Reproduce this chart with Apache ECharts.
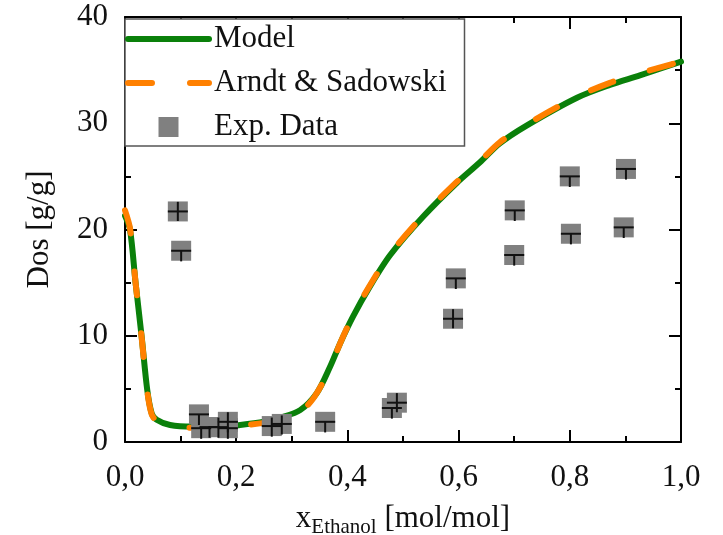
<!DOCTYPE html>
<html>
<head>
<meta charset="utf-8">
<script src="https://cdn.jsdelivr.net/npm/echarts@6/dist/echarts.min.js"></script>
<style>html,body{margin:0;padding:0;background:#fff;}#chart{width:723px;height:535px;}</style>
</head>
<body>
<div id="chart"></div>
<script>
// ---- data ----
var modelX = [0, 0.009, 0.019, 0.030, 0.040, 0.048, 0.057, 0.081, 0.122, 0.171, 0.207, 0.250, 0.280, 0.315, 0.345, 0.369, 0.387, 0.410, 0.440, 0.477, 0.536, 0.597, 0.638, 0.674, 0.723, 0.813, 0.872, 0.926, 1.0];
var modelY = [21.3, 20.0, 15.0, 9.9, 4.9, 2.7, 2.1, 1.6, 1.45, 1.45, 1.6, 1.9, 2.3, 3.0, 4.6, 7.1, 9.3, 11.8, 14.6, 17.6, 21.2, 24.4, 26.3, 28.1, 29.8, 32.4, 33.6, 34.5, 35.8];
var arndtX = [0, 0.009, 0.019, 0.030, 0.040, 0.048, 0.057, 0.081, 0.122, 0.171, 0.207, 0.250, 0.280, 0.310, 0.340, 0.369, 0.387, 0.410, 0.440, 0.477, 0.536, 0.597, 0.638, 0.674, 0.723, 0.813, 0.872, 0.926, 1.0];
var arndtY = [21.8, 20.1, 15.0, 9.8, 4.8, 2.6, 2.0, 1.5, 1.35, 1.4, 1.55, 1.8, 2.1, 2.6, 4.2, 7.0, 9.3, 11.9, 14.7, 17.7, 21.3, 24.5, 26.4, 28.2, 29.9, 32.5, 33.8, 34.7, 35.8];
var expX = [0.095, 0.101, 0.133, 0.137, 0.152, 0.168, 0.185, 0.185, 0.264, 0.282, 0.360, 0.480, 0.489, 0.590, 0.595, 0.700, 0.701, 0.800, 0.802, 0.897, 0.901];
var expY = [21.7, 18.0, 2.6, 1.3, 1.4, 1.4, 1.9, 1.3, 1.5, 1.7, 1.9, 3.2, 3.7, 11.6, 15.4, 17.6, 21.8, 25.0, 19.6, 20.2, 25.7];
var expErrLow = [0.9, 1.0, 1.0, 1.0, 1.0, 1.0, 1.0, 1.0, 1.0, 1.0, 1.0, 1.0, 0.9, 0.9, 1.0, 1.0, 1.0, 1.0, 1.0, 1.0, 1.0];
var expErrHigh = [0.9, 0, 0, 0, 0, 0.9, 0.9, 0, 0.8, 0.8, 0, 0, 0.9, 0.9, 0, 0, 0, 0, 0, 0, 0];
var expErrX = 0.018;
var xTicks = [0, 0.2, 0.4, 0.6, 0.8, 1.0];
var yTicks = [0, 10, 20, 30, 40];

var FONT = "'Liberation Serif', 'DejaVu Serif', serif";
var FS = 31;
var modelData = modelX.map(function (x, i) { return [x, modelY[i]]; });
var arndtData = arndtX.map(function (x, i) { return [x, arndtY[i]]; });
var expData = expX.map(function (x, i) { return [x, expY[i], expErrLow[i], expErrHigh[i]]; });

function axisCommon(extra) {
  var o = {
    axisLine: { show: true, onZero: false, lineStyle: { color: '#000', width: 2 } },
    axisTick: { show: true, inside: true, length: 12, lineStyle: { color: '#000', width: 2 } },
    minorTick: { show: true, splitNumber: 2, length: 6, lineStyle: { color: '#000', width: 2 } },
    splitLine: { show: false },
    minorSplitLine: { show: false }
  };
  for (var k in extra) o[k] = extra[k];
  return o;
}

var hideSym = { color: 'rgba(0,0,0,0)', opacity: 0, borderWidth: 0 };
var chart = echarts.init(document.getElementById('chart'), null, { renderer: 'canvas' });
var option = {
  animation: false,
  backgroundColor: '#fff',
  grid: { left: 125, right: 42, top: 17, bottom: 93, containLabel: false, outerBoundsMode: 'none' },
  legend: {
    orient: 'vertical', left: 125, top: 19,
    padding: [4, 18, 3, 0],
    itemWidth: 81, itemHeight: 20, itemGap: 12,
    backgroundColor: '#fff', borderColor: '#555', borderWidth: 1.5,
    textStyle: { fontFamily: FONT, fontSize: FS, color: '#111', lineHeight: 32 },
    lineStyle: { width: 6 },
    data: [
      { name: 'Model', itemStyle: hideSym },
      { name: 'Arndt & Sadowski', itemStyle: hideSym },
      { name: 'Exp. Data', icon: 'path://M0,0L20,0L20,20L0,20Z' }
    ]
  },
  xAxis: [
    axisCommon({
      type: 'value', min: xTicks[0], max: xTicks[xTicks.length - 1], interval: 0.2, position: 'bottom',
      axisLabel: { show: true, margin: 20, fontFamily: FONT, fontSize: FS, color: '#111',
        formatter: function (v) { return v.toFixed(1).replace('.', ','); } },
      name: '{a|x}{s|Ethanol}{a| [mol/mol]}', nameLocation: 'middle', nameGap: 58,
      nameTextStyle: { fontFamily: FONT, color: '#111',
        rich: {
          a: { fontFamily: FONT, fontSize: FS, color: '#111', lineHeight: 38, verticalAlign: 'middle' },
          s: { fontFamily: FONT, fontSize: 21, color: '#111', lineHeight: 21, verticalAlign: 'bottom' }
        } }
    }),
    axisCommon({
      type: 'value', min: 0, max: 1, interval: 0.2, position: 'top',
      axisLabel: { show: false }
    })
  ],
  yAxis: [
    axisCommon({
      type: 'value', min: yTicks[0], max: yTicks[yTicks.length - 1], interval: 10, position: 'left',
      axisLabel: { show: true, margin: 17, fontFamily: FONT, fontSize: FS, color: '#111' },
      name: 'Dos [g/g]', nameLocation: 'middle', nameGap: 70, nameRotate: 90,
      nameTextStyle: { fontFamily: FONT, fontSize: FS, color: '#111' }
    }),
    axisCommon({
      type: 'value', min: 0, max: 40, interval: 10, position: 'right',
      axisLabel: { show: false }
    })
  ],
  series: [
    {
      name: 'Model', type: 'line', data: modelData, symbol: 'none', showSymbol: false,
      smooth: 0.3, z: 2,
      lineStyle: { color: '#0a800a', width: 6, cap: 'round', join: 'round' },
      itemStyle: { color: '#0a800a' }
    },
    {
      name: 'Arndt & Sadowski', type: 'line', data: arndtData, symbol: 'none', showSymbol: false,
      smooth: 0.3, z: 3,
      lineStyle: { color: '#ff8000', width: 6, type: [24, 38], cap: 'round', join: 'round' },
      itemStyle: { color: '#ff8000' }
    },
    {
      name: 'Exp. Data', type: 'scatter', data: expData, symbol: 'rect', symbolSize: 20, z: 4,
      itemStyle: { color: '#808080', opacity: 1 }
    },
    {
      name: 'errors', type: 'custom', data: expData, z: 5, silent: true,
      renderItem: function (params, api) {
        var x = api.value(0), y = api.value(1), lo = api.value(2), hi = api.value(3);
        var h1 = api.coord([x - expErrX, y]), h2 = api.coord([x + expErrX, y]);
        var v1 = api.coord([x, y - lo]), v2 = api.coord([x, y + hi]);
        var st = { stroke: '#111', lineWidth: 2 };
        return { type: 'group', children: [
          { type: 'line', shape: { x1: h1[0], y1: h1[1], x2: h2[0], y2: h2[1] }, style: st },
          { type: 'line', shape: { x1: v1[0], y1: v1[1], x2: v2[0], y2: v2[1] }, style: st }
        ] };
      }
    }
  ]
};
chart.setOption(option);
</script>
</body>
</html>
